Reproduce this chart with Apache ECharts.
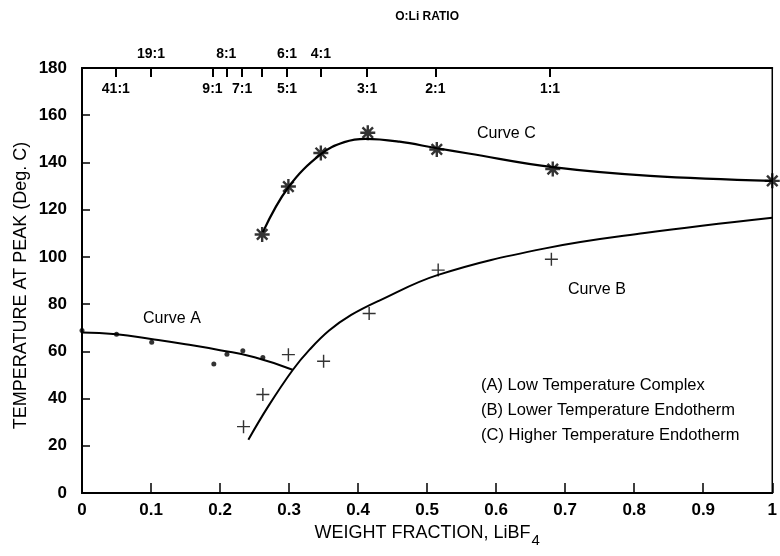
<!DOCTYPE html>
<html>
<head>
<meta charset="utf-8">
<script src="https://cdn.jsdelivr.net/npm/echarts@6/dist/echarts.min.js"></script>
<style>
  html, body { margin: 0; padding: 0; background: #fff; }
  #chart { width: 780px; height: 556px; }
</style>
</head>
<body>
<div id="chart"></div>
<script>
// Peak temperatures vs. LiBF4 weight fraction

// Curve A: low temperature complex (measured dots and fitted curve)
const curveAPoints = [[0, 68.8], [0.05, 67.2], [0.101, 63.8], [0.191, 54.6], [0.21, 58.8], [0.233, 60.2], [0.262, 57.4]];
const curveAFit = [[0, 68.0], [0.05, 67.2], [0.1, 65.2], [0.15, 63.0], [0.2, 60.5], [0.25, 57.5], [0.305, 52.2]];

// Curve B: lower temperature endotherm
const curveBPoints = [[0.234, 28.1], [0.262, 41.7], [0.299, 58.6], [0.35, 55.8], [0.416, 76.0], [0.516, 94.4], [0.68, 99.0]];
const curveBFit = [[0.241, 22.6], [0.27, 36.8], [0.305, 52.0], [0.33, 60.8], [0.358, 68.8], [0.39, 75.4], [0.43, 81.4], [0.516, 92.4], [0.671, 103.6], [0.815, 110.1], [1.0, 116.6]];

// Curve C: higher temperature endotherm
const curveCPoints = [[0.261, 109.5], [0.299, 129.8], [0.346, 144.0], [0.414, 152.6], [0.514, 145.5], [0.682, 137.2], [1.0, 132.2]];
const curveCFit = [[0.262, 110.5], [0.299, 129.5], [0.346, 143.5], [0.38, 148.6], [0.411, 150.0], [0.46, 148.8], [0.514, 146.0], [0.56, 143.8], [0.682, 138.0], [0.823, 134.3], [1.0, 132.2]];

// Top O:Li ratio scale
const ratioTicks = [0.049, 0.1, 0.189, 0.209, 0.232, 0.26, 0.297, 0.346, 0.413, 0.512, 0.678];
const ratioUpperPos = [0.1, 0.209, 0.297, 0.346];
const ratioUpperText = ['19:1', '8:1', '6:1', '4:1'];
const ratioLowerPos = [0.049, 0.189, 0.232, 0.297, 0.413, 0.512, 0.678];
const ratioLowerText = ['41:1', '9:1', '7:1', '5:1', '3:1', '2:1', '1:1'];

const legendLines = ['(A) Low Temperature Complex', '(B) Lower Temperature Endotherm', '(C) Higher Temperature Endotherm'];

const FONT = '"Liberation Sans", Arial, Helvetica, sans-serif';
const INK = '#000';

function lookup(pos, text) {
  return function (v) {
    for (let i = 0; i < pos.length; i++) {
      if (Math.abs(pos[i] - v) < 1e-6) return text[i];
    }
    return '';
  };
}

// filled plus and asterisk marker shapes
const plusPath = 'path://M4.45,0h1.1v4.45h4.45v1.1h-4.45v4.45h-1.1v-4.45h-4.45v-1.1h4.45z';
const starPath = 'path://M4.2,0h1.6v10h-1.6z M0,4.2h10v1.6h-10z ' +
  'M2.07,0.93L9.07,7.93L7.93,9.07L0.93,2.07z M7.93,0.93L9.07,2.07L2.07,9.07L0.93,7.93z';

const chart = echarts.init(document.getElementById('chart'), null, { renderer: 'canvas' });

function note(text, left, top, size) {
  return { type: 'text', left: left, top: top, style: { text: text, fill: INK, font: size + 'px ' + FONT } };
}

const option = {
  animation: false,
  backgroundColor: '#fff',
  textStyle: { fontFamily: FONT, color: INK },
  grid: {
    left: 82, right: 5, top: 68, bottom: 63,
    show: true, borderColor: INK, borderWidth: 1.5, backgroundColor: 'transparent'
  },
  xAxis: [
    {
      type: 'value', position: 'bottom', min: 0, max: 1, interval: 0.1,
      axisLine: { show: true, onZero: false, lineStyle: { color: INK, width: 2 } },
      axisTick: { show: true, inside: true, length: 10, lineStyle: { color: INK, width: 1.5 } },
      splitLine: { show: false },
      axisLabel: {
        color: INK, fontSize: 17, fontWeight: 'bold', fontFamily: FONT, margin: 9,
        formatter: function (v) { return (v === 0 || v === 1) ? String(v) : v.toFixed(1); }
      },
      name: 'WEIGHT FRACTION, LiBF{sub|4}',
      nameLocation: 'middle', nameGap: 26, nameMoveOverlap: false,
      nameTextStyle: {
        color: INK, fontSize: 18, fontFamily: FONT,
        rich: { sub: { fontSize: 15, fontFamily: FONT, color: INK, padding: [14, 0, 0, 1] } }
      }
    },
    {
      type: 'value', position: 'top', min: 0, max: 1,
      axisLine: { show: true, onZero: false, lineStyle: { color: INK, width: 2 } },
      axisTick: { show: true, inside: true, length: 9, customValues: ratioTicks, lineStyle: { color: INK, width: 2 } },
      splitLine: { show: false },
      axisLabel: {
        show: true, customValues: ratioUpperPos, color: INK, fontSize: 14, fontWeight: 'bold',
        fontFamily: FONT, margin: 7, formatter: lookup(ratioUpperPos, ratioUpperText)
      },
      name: 'O:Li RATIO', nameLocation: 'middle', nameGap: 45, nameMoveOverlap: false,
      nameTextStyle: { color: INK, fontSize: 12, fontWeight: 'bold', fontFamily: FONT }
    },
    {
      type: 'value', position: 'top', min: 0, max: 1,
      axisLine: { show: false },
      axisTick: { show: false },
      splitLine: { show: false },
      axisLabel: {
        show: true, inside: true, customValues: ratioLowerPos, color: INK, fontSize: 14, fontWeight: 'bold',
        fontFamily: FONT, margin: 14, formatter: lookup(ratioLowerPos, ratioLowerText)
      }
    }
  ],
  yAxis: {
    type: 'value', min: 0, max: 180, interval: 20,
    axisLine: { show: true, onZero: false, lineStyle: { color: INK, width: 2 } },
    axisTick: { show: true, inside: true, length: 8, lineStyle: { color: INK, width: 1.5 } },
    splitLine: { show: false },
    axisLabel: { color: INK, fontSize: 17, fontWeight: 'bold', fontFamily: FONT, margin: 15 },
    name: 'TEMPERATURE AT PEAK (Deg. C)',
    nameLocation: 'middle', nameGap: 52, nameRotate: 90, nameMoveOverlap: false,
    nameTextStyle: { color: INK, fontSize: 18, fontFamily: FONT, padding: [0, 10, 0, 0] }
  },
  series: [
    {
      name: 'Curve A fit', type: 'line', data: curveAFit, smooth: true, showSymbol: false,
      lineStyle: { color: INK, width: 2 }, z: 2
    },
    {
      name: 'Curve A', type: 'scatter', data: curveAPoints, symbol: 'circle', symbolSize: 5,
      itemStyle: { color: INK }, z: 3
    },
    {
      name: 'Curve B fit', type: 'line', data: curveBFit, smooth: 0.4, showSymbol: false,
      lineStyle: { color: INK, width: 2 }, z: 2
    },
    {
      name: 'Curve B', type: 'scatter', data: curveBPoints, symbol: plusPath, symbolSize: 13,
      itemStyle: { color: INK }, z: 3
    },
    {
      name: 'Curve C fit', type: 'line', data: curveCFit, smooth: 0.4, showSymbol: false,
      lineStyle: { color: INK, width: 2.2 }, z: 2
    },
    {
      name: 'Curve C', type: 'scatter', data: curveCPoints, symbol: starPath, symbolSize: 15,
      itemStyle: { color: INK }, z: 3
    }
  ],
  graphic: [
    note('Curve A', 143, 311, 16),
    note('Curve B', 568, 282, 16),
    note('Curve C', 477, 126, 16)
  ].concat(legendLines.map(function (t, i) {
    return note(t, 481, 377 + i * 25, 16.5);
  }))
};

chart.setOption(option);
</script>
</body>
</html>
